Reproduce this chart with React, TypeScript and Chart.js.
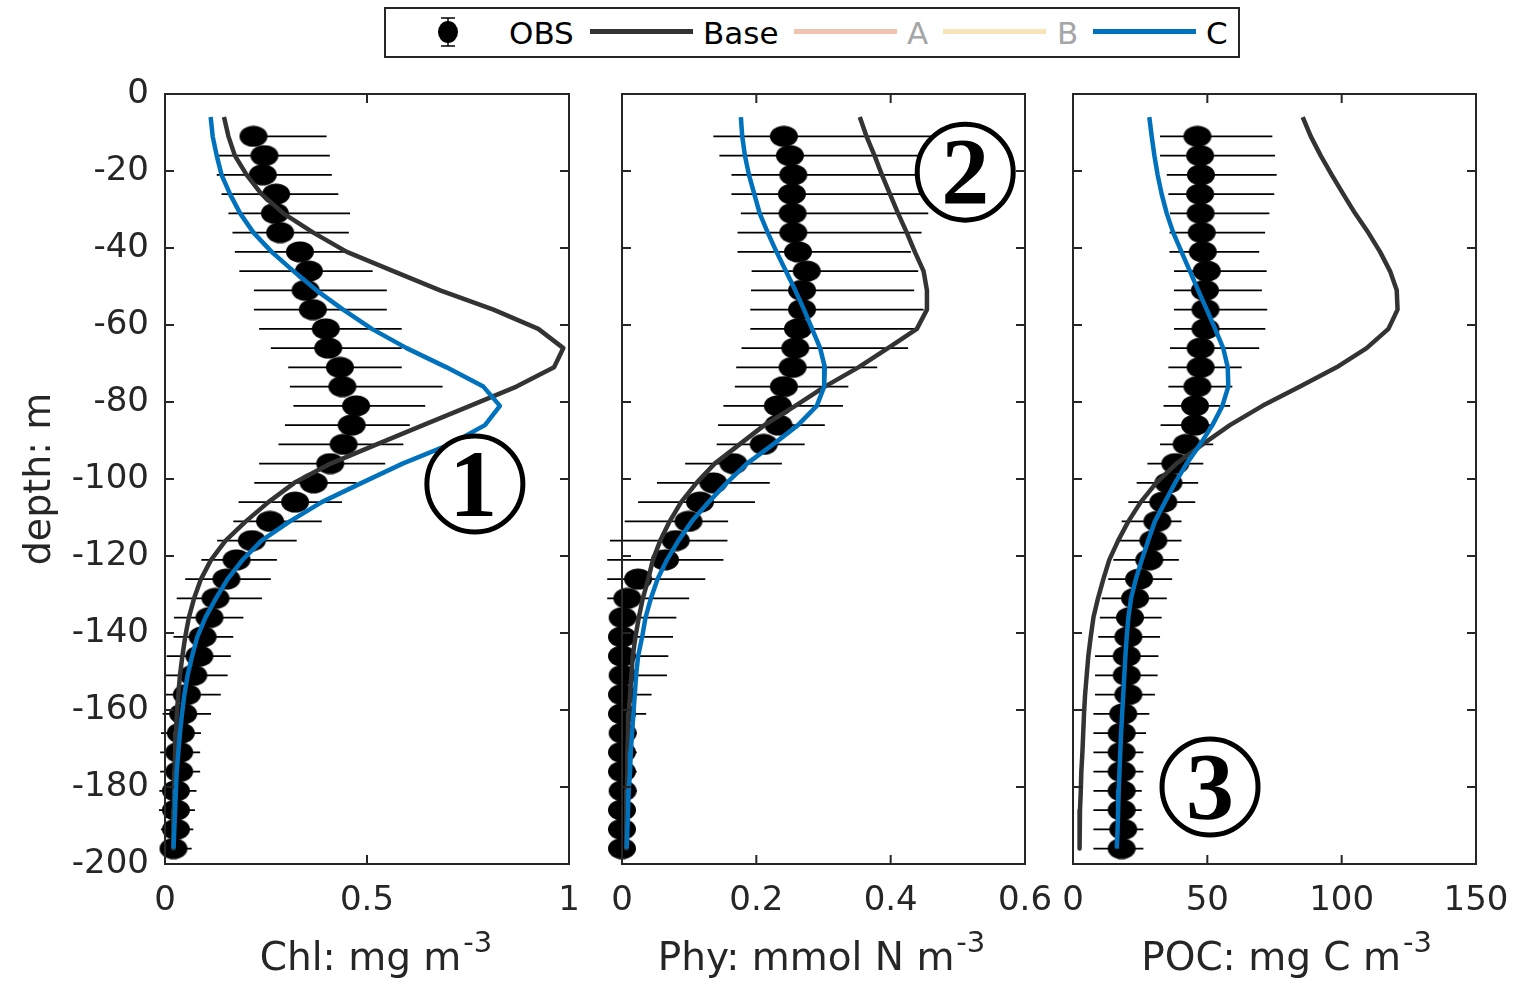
import React, { useEffect, useRef } from "react";
import { Chart, registerables } from "chart.js";

Chart.register(...registerables);

// ---------------- data ----------------
const obsDepth = [-11, -16, -21, -26, -31, -36, -41, -46, -51, -56, -61, -66, -71, -76, -81, -86, -91, -96, -101, -106, -111, -116, -121, -126, -131, -136, -141, -146, -151, -156, -161, -166, -171, -176, -181, -186, -191, -196];
const modelDepth = [-6, -11, -16, -21, -26, -31, -36, -41, -46, -51, -56, -61, -66, -71, -76, -81, -86, -91, -96, -101, -106, -111, -116, -121, -126, -131, -136, -141, -146, -151, -156, -161, -166, -171, -176, -181, -186, -191, -196];

const chlObs = [0.219, 0.246, 0.242, 0.275, 0.272, 0.285, 0.334, 0.356, 0.348, 0.366, 0.398, 0.404, 0.433, 0.439, 0.473, 0.462, 0.442, 0.409, 0.368, 0.322, 0.260, 0.215, 0.177, 0.152, 0.125, 0.110, 0.093, 0.085, 0.070, 0.054, 0.045, 0.039, 0.035, 0.035, 0.027, 0.027, 0.027, 0.021];
const chlLo = [0.19, 0.128, 0.128, 0.140, 0.157, 0.167, 0.173, 0.184, 0.220, 0.220, 0.233, 0.262, 0.305, 0.309, 0.318, 0.297, 0.281, 0.233, 0.221, 0.182, 0.169, 0.129, 0.090, 0.050, 0.029, 0.022, 0.021, 0.004, 0.002, -0.002, -0.006, -0.010, -0.012, -0.012, -0.014, -0.015, -0.010, -0.006];
const chlHi = [0.400, 0.408, 0.413, 0.429, 0.458, 0.455, 0.460, 0.514, 0.549, 0.549, 0.586, 0.586, 0.586, 0.687, 0.644, 0.606, 0.590, 0.545, 0.474, 0.438, 0.388, 0.326, 0.277, 0.262, 0.240, 0.194, 0.169, 0.163, 0.155, 0.138, 0.114, 0.089, 0.087, 0.087, 0.078, 0.074, 0.070, 0.066];
const chlBase = [0.146, 0.157, 0.173, 0.202, 0.239, 0.293, 0.367, 0.450, 0.565, 0.681, 0.813, 0.924, 0.986, 0.963, 0.870, 0.755, 0.639, 0.524, 0.410, 0.320, 0.256, 0.200, 0.150, 0.114, 0.089, 0.072, 0.059, 0.050, 0.043, 0.037, 0.033, 0.029, 0.027, 0.025, 0.024, 0.023, 0.022, 0.021, 0.020];
const chlC = [0.113, 0.118, 0.128, 0.140, 0.161, 0.186, 0.219, 0.264, 0.318, 0.375, 0.441, 0.512, 0.598, 0.697, 0.788, 0.829, 0.792, 0.705, 0.588, 0.487, 0.388, 0.309, 0.239, 0.192, 0.155, 0.126, 0.100, 0.080, 0.067, 0.056, 0.048, 0.042, 0.037, 0.033, 0.029, 0.027, 0.025, 0.023, 0.021];

const phyObs = [0.241, 0.250, 0.255, 0.253, 0.254, 0.255, 0.262, 0.275, 0.268, 0.268, 0.262, 0.258, 0.254, 0.241, 0.232, 0.233, 0.211, 0.166, 0.136, 0.116, 0.099, 0.080, 0.064, 0.024, 0.008, 0.001, 0.000, 0.000, 0.001, 0.000, 0.000, 0.001, 0.000, 0.000, 0.001, 0.000, 0.000, 0.000];
const phyLo = [0.136, 0.145, 0.163, 0.163, 0.177, 0.172, 0.172, 0.193, 0.192, 0.191, 0.191, 0.178, 0.170, 0.168, 0.151, 0.143, 0.141, 0.094, 0.052, 0.024, 0.004, -0.018, -0.022, -0.022, -0.022, -0.010, -0.008, -0.008, -0.008, -0.008, -0.008, -0.008, -0.008, -0.008, -0.008, -0.008, -0.008, -0.008];
const phyHi = [0.460, 0.455, 0.452, 0.452, 0.456, 0.446, 0.430, 0.441, 0.435, 0.449, 0.439, 0.426, 0.380, 0.337, 0.329, 0.302, 0.272, 0.238, 0.220, 0.198, 0.158, 0.157, 0.151, 0.124, 0.100, 0.081, 0.076, 0.069, 0.067, 0.044, 0.036, 0.022, 0.022, 0.022, 0.022, 0.020, 0.020, 0.020];
const phyBase = [0.354, 0.364, 0.376, 0.387, 0.399, 0.411, 0.424, 0.436, 0.449, 0.454, 0.454, 0.439, 0.396, 0.352, 0.302, 0.258, 0.212, 0.175, 0.138, 0.111, 0.088, 0.071, 0.057, 0.046, 0.039, 0.031, 0.025, 0.020, 0.016, 0.014, 0.012, 0.010, 0.009, 0.008, 0.008, 0.007, 0.007, 0.006, 0.006];
const phyC = [0.177, 0.179, 0.183, 0.189, 0.197, 0.205, 0.217, 0.230, 0.244, 0.258, 0.271, 0.283, 0.295, 0.302, 0.301, 0.290, 0.262, 0.225, 0.186, 0.156, 0.129, 0.104, 0.084, 0.067, 0.053, 0.043, 0.035, 0.030, 0.024, 0.021, 0.019, 0.017, 0.015, 0.013, 0.012, 0.010, 0.009, 0.008, 0.007];

const pocObs = [46.3, 47.3, 47.6, 47.3, 47.5, 47.9, 48.3, 49.8, 49.1, 49.3, 49.3, 47.5, 47.5, 46.3, 45.4, 45.4, 42.3, 38.1, 35.5, 33.6, 31.4, 29.9, 28.4, 24.6, 23.1, 21.2, 20.6, 20.0, 20.0, 20.6, 18.7, 18.1, 18.1, 18.1, 18.1, 18.1, 18.7, 18.1];
const pocLo = [32.4, 32.4, 34.9, 35.5, 36.1, 35.9, 35.9, 37.6, 37.6, 37.6, 37.6, 36.1, 35.5, 35.5, 33.7, 32.6, 32.4, 27.7, 23.7, 20.6, 18.1, 16.3, 15.0, 13.1, 10.7, 10.0, 9.4, 8.2, 8.2, 8.2, 7.6, 7.6, 7.6, 7.6, 7.6, 7.6, 7.6, 7.6];
const pocHi = [74.2, 75.2, 75.8, 74.9, 73.1, 71.5, 69.3, 72.1, 70.3, 72.3, 71.6, 69.3, 62.8, 59.3, 58.5, 52.2, 52.2, 48.5, 46.6, 45.5, 40.4, 40.4, 39.4, 36.9, 34.9, 33.0, 32.4, 31.8, 31.5, 30.5, 28.4, 27.2, 26.2, 26.2, 25.6, 25.6, 26.2, 26.2];
const pocBase = [85.5, 88.5, 92.2, 96.3, 100.6, 105.0, 109.9, 114.3, 118.0, 120.5, 120.8, 117.4, 109.3, 98.1, 84.5, 70.5, 58.4, 48.2, 38.5, 31.0, 25.2, 20.6, 16.8, 13.5, 11.3, 9.3, 7.6, 6.6, 5.7, 5.1, 4.5, 4.1, 3.8, 3.5, 3.1, 2.9, 2.6, 2.5, 2.4];
const pocC = [28.4, 29.3, 30.3, 31.5, 33.0, 34.9, 37.3, 40.4, 43.5, 46.6, 49.8, 52.9, 55.9, 57.6, 57.8, 55.6, 51.9, 47.3, 42.3, 38.0, 34.2, 30.5, 28.0, 25.6, 23.4, 21.6, 20.6, 20.0, 19.5, 19.1, 18.7, 18.3, 17.9, 17.6, 17.3, 17.0, 16.8, 16.6, 16.3];

const yTicks = [0, -20, -40, -60, -80, -100, -120, -140, -160, -180, -200];
const yTickLabels = ["0", "-20", "-40", "-60", "-80", "-100", "-120", "-140", "-160", "-180", "-200"];
const chlTicks = [0, 0.5, 1];
const chlTickLabels = ["0", "0.5", "1"];
const phyTicks = [0, 0.2, 0.4, 0.6];
const phyTickLabels = ["0", "0.2", "0.4", "0.6"];
const pocTicks = [0, 50, 100, 150];
const pocTickLabels = ["0", "50", "100", "150"];

const legendLabels = ["OBS", "Base", "A", "B", "C"];
const panelTitles = ["Chl: mg m", "Phy: mmol N m", "POC: mg C m"];
const titleSup = "-3";
const yTitle = "depth: m";
const markLabels = ["1", "2", "3"];
const markX = [0.767, 0.511, 51.0];
const markY = [-101.3, -20.3, -180.0];

// ---------------- style ----------------
const W = 1524;
const H = 982;
const PLOT_TOP = 94;
const PLOT_BOTTOM = 864;
const FONT = "'DejaVu Sans', 'Noto Sans', sans-serif";
const AXIS = "#262626";
const BASE_COLOR = "#333333";
const C_COLOR = "#0072BD";

type Spec = {
  left: number; right: number; max: number;
  ticks: number[]; tickLabels: string[];
  obs: number[]; lo: number[]; hi: number[]; base: number[]; c: number[];
  title: string; titleShift: number; showY: boolean;
  mark: { x: number; y: number; label: string };
};

const specs: Spec[] = [
  { left: 165, right: 569, max: 1, ticks: chlTicks, tickLabels: chlTickLabels, obs: chlObs, lo: chlLo, hi: chlHi, base: chlBase, c: chlC, title: panelTitles[0], titleShift: 8, showY: true, mark: { x: markX[0], y: markY[0], label: markLabels[0] } },
  { left: 622, right: 1025, max: 0.6, ticks: phyTicks, tickLabels: phyTickLabels, obs: phyObs, lo: phyLo, hi: phyHi, base: phyBase, c: phyC, title: panelTitles[1], titleShift: -3, showY: false, mark: { x: markX[1], y: markY[1], label: markLabels[1] } },
  { left: 1073, right: 1476, max: 150, ticks: pocTicks, tickLabels: pocTickLabels, obs: pocObs, lo: pocLo, hi: pocHi, base: pocBase, c: pocC, title: panelTitles[2], titleShift: 11, showY: false, mark: { x: markX[2], y: markY[2], label: markLabels[2] } },
];

function makeEllipse(): HTMLCanvasElement {
  const c = document.createElement("canvas");
  c.width = 30;
  c.height = 22;
  const g = c.getContext("2d")!;
  g.fillStyle = "#000";
  g.beginPath();
  g.ellipse(15, 11, 14, 10.5, 0, 0, Math.PI * 2);
  g.fill();
  return c;
}

function makeChart(canvas: HTMLCanvasElement, p: Spec) {
  const dot = makeEllipse();

  const decor = {
    id: "panelDecor",
    beforeDatasetsDraw(chart: any) {
      const { ctx } = chart;
      const x = chart.scales.x;
      const y = chart.scales.y;
      ctx.save();
      ctx.strokeStyle = "#000";
      ctx.lineWidth = 1.6;
      ctx.beginPath();
      obsDepth.forEach((d, k) => {
        const py = y.getPixelForValue(d);
        ctx.moveTo(x.getPixelForValue(p.lo[k]), py);
        ctx.lineTo(x.getPixelForValue(p.hi[k]), py);
      });
      ctx.stroke();
      ctx.restore();
    },
    afterDatasetsDraw(chart: any) {
      const { ctx } = chart;
      const cx = chart.scales.x.getPixelForValue(p.mark.x);
      const cy = chart.scales.y.getPixelForValue(p.mark.y);
      ctx.save();
      ctx.beginPath();
      ctx.arc(cx, cy, 48, 0, Math.PI * 2);
      ctx.fillStyle = "#fff";
      ctx.fill();
      ctx.lineWidth = 5;
      ctx.strokeStyle = "#000";
      ctx.stroke();
      ctx.font = "bold 96px 'Liberation Serif', 'DejaVu Serif', serif";
      ctx.fillStyle = "#000";
      ctx.textAlign = "left";
      ctx.textBaseline = "alphabetic";
      const m = ctx.measureText(p.mark.label);
      const gw = m.actualBoundingBoxRight + m.actualBoundingBoxLeft;
      const gh = m.actualBoundingBoxAscent - m.actualBoundingBoxDescent;
      ctx.fillText(p.mark.label, cx - gw / 2 + m.actualBoundingBoxLeft, cy + gh / 2);
      ctx.restore();
    },
    afterDraw(chart: any) {
      const { ctx, chartArea: a } = chart;
      const x = chart.scales.x;
      const y = chart.scales.y;
      ctx.save();
      ctx.strokeStyle = AXIS;
      ctx.lineWidth = 2;
      ctx.strokeRect(a.left, a.top, a.right - a.left, a.bottom - a.top);
      ctx.beginPath();
      const tl = 9;
      p.ticks.forEach((v) => {
        const px = x.getPixelForValue(v);
        ctx.moveTo(px, a.bottom);
        ctx.lineTo(px, a.bottom - tl);
        ctx.moveTo(px, a.top);
        ctx.lineTo(px, a.top + tl);
      });
      yTicks.forEach((v) => {
        const py = y.getPixelForValue(v);
        ctx.moveTo(a.left, py);
        ctx.lineTo(a.left + tl, py);
        ctx.moveTo(a.right, py);
        ctx.lineTo(a.right - tl, py);
      });
      ctx.stroke();

      // x title with superscript
      ctx.fillStyle = AXIS;
      ctx.textBaseline = "alphabetic";
      ctx.textAlign = "left";
      ctx.font = `39px ${FONT}`;
      const w1 = ctx.measureText(p.title).width;
      ctx.font = `29px ${FONT}`;
      const w2 = ctx.measureText(titleSup).width;
      const start = (a.left + a.right) / 2 + p.titleShift - (w1 + w2) / 2;
      ctx.font = `39px ${FONT}`;
      ctx.fillText(p.title, start, a.bottom + 106);
      ctx.font = `29px ${FONT}`;
      ctx.fillText(titleSup, start + w1 + 2, a.bottom + 88);

      if (p.showY) {
        ctx.save();
        ctx.translate(50, (a.top + a.bottom) / 2);
        ctx.rotate(-Math.PI / 2);
        ctx.textAlign = "center";
        ctx.font = `38px ${FONT}`;
        ctx.fillText(yTitle, 0, 0);
        ctx.restore();
      }
      ctx.restore();
    },
  };

  return new Chart(canvas, {
    type: "scatter",
    data: {
      datasets: [
        {
          label: legendLabels[4],
          data: modelDepth.map((d, k) => ({ x: p.c[k], y: d })),
          showLine: true,
          borderColor: C_COLOR,
          backgroundColor: C_COLOR,
          borderWidth: 4.5,
          pointRadius: 0,
          borderJoinStyle: "round",
          order: 0,
        },
        {
          label: legendLabels[1],
          data: modelDepth.map((d, k) => ({ x: p.base[k], y: d })),
          showLine: true,
          borderColor: BASE_COLOR,
          backgroundColor: BASE_COLOR,
          borderWidth: 4.5,
          pointRadius: 0,
          borderJoinStyle: "round",
          order: 1,
        },
        {
          label: legendLabels[0],
          data: obsDepth.map((d, k) => ({ x: p.obs[k], y: d })),
          showLine: false,
          pointStyle: dot as any,
          pointRadius: 14,
          backgroundColor: "#000",
          borderColor: "#000",
          clip: false as any,
          order: 2,
        },
      ],
    },
    options: {
      responsive: false,
      animation: false,
      devicePixelRatio: 1,
      events: [],
      layout: {
        padding: { left: p.showY ? 0 : p.left, right: W - p.right, top: PLOT_TOP, bottom: 0 },
      },
      plugins: { legend: { display: false }, tooltip: { enabled: false } },
      scales: {
        x: {
          type: "linear",
          position: "bottom",
          min: 0,
          max: p.max,
          afterBuildTicks: (s: any) => { s.ticks = p.ticks.map((v) => ({ value: v })); },
          afterFit: (s: any) => { s.height = H - PLOT_BOTTOM; },
          grid: { display: false },
          border: { display: false },
          ticks: {
            autoSkip: false,
            maxRotation: 0,
            minRotation: 0,
            padding: 9,
            color: AXIS,
            font: { family: FONT, size: 34 },
            callback: (_v: any, i: number) => p.tickLabels[i],
          },
        },
        y: {
          type: "linear",
          position: "left",
          min: -200,
          max: 0,
          afterBuildTicks: (s: any) => { s.ticks = yTicks.map((v) => ({ value: v })); },
          afterFit: (s: any) => { s.width = p.showY ? p.left : 0; },
          grid: { display: false },
          border: { display: false },
          ticks: {
            display: p.showY,
            autoSkip: false,
            padding: 8,
            color: AXIS,
            font: { family: FONT, size: 34 },
            callback: (_v: any, i: number) => yTickLabels[i],
          },
        },
      },
    },
    plugins: [decor],
  } as any);
}

function Panel({ spec }: { spec: Spec }) {
  const ref = useRef<HTMLCanvasElement>(null);
  useEffect(() => {
    const chart = makeChart(ref.current!, spec);
    return () => chart.destroy();
  }, [spec]);
  return <canvas ref={ref} width={W} height={H} style={{ position: "absolute", left: 0, top: 0 }} />;
}

const legendText: React.CSSProperties = {
  position: "absolute",
  top: 18,
  fontFamily: FONT,
  fontSize: 31,
  lineHeight: "31px",
  whiteSpace: "nowrap",
};

function Legend() {
  const line = (left: number, color: string): React.CSSProperties => ({
    position: "absolute", left, top: 29, width: 103, height: 5, background: color,
  });
  return (
    <>
      <div style={{ position: "absolute", left: 384, top: 7, width: 856, height: 51, boxSizing: "border-box", border: "2px solid #262626", background: "#fff" }} />
      <svg style={{ position: "absolute", left: 436, top: 16 }} width={24} height={33}>
        <line x1={12} y1={2} x2={12} y2={30} stroke="#000" strokeWidth={1.5} />
        <line x1={5} y1={2} x2={19} y2={2} stroke="#000" strokeWidth={1.5} />
        <line x1={5} y1={30} x2={19} y2={30} stroke="#000" strokeWidth={1.5} />
        <ellipse cx={12} cy={16} rx={10} ry={11} fill="#000" />
      </svg>
      <span style={{ ...legendText, left: 509, color: "#000" }}>{legendLabels[0]}</span>
      <div style={line(590, BASE_COLOR)} />
      <span style={{ ...legendText, left: 703, color: "#000" }}>{legendLabels[1]}</span>
      <div style={line(794, "#EFC3AE")} />
      <span style={{ ...legendText, left: 907, color: "#A6A6A6" }}>{legendLabels[2]}</span>
      <div style={line(943, "#F9E4B8")} />
      <span style={{ ...legendText, left: 1057, color: "#A6A6A6" }}>{legendLabels[3]}</span>
      <div style={line(1093, C_COLOR)} />
      <span style={{ ...legendText, left: 1206, color: "#000" }}>{legendLabels[4]}</span>
    </>
  );
}

export default function App() {
  return (
    <div style={{ position: "absolute", left: 0, top: 0, width: W, height: H, background: "#fff", overflow: "hidden" }}>
      {specs.map((s, i) => (
        <Panel key={i} spec={s} />
      ))}
      <Legend />
    </div>
  );
}
